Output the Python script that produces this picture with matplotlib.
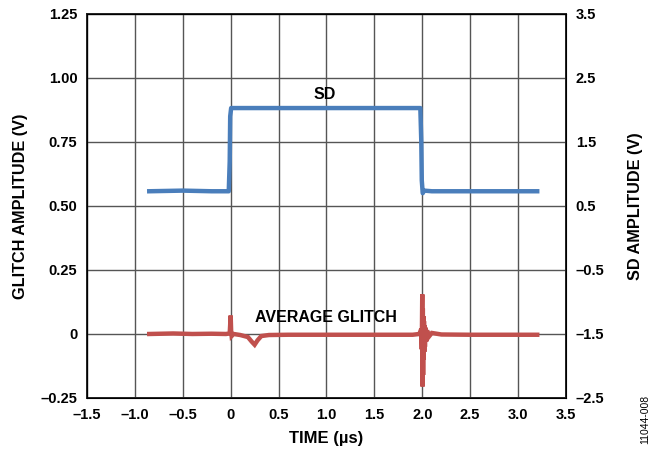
import matplotlib.pyplot as plt
import numpy as np

plt.rcParams.update({
    'font.family': ['Liberation Sans', 'DejaVu Sans'],
    'font.weight': 'bold',
    'font.size': 10.5,
})

BLUE = '#4a7ebb'
RED = '#c0504d'
GRID = '#555555'

# SD trace (right axis, V)
SD_TIME = [-0.85, -0.5, -0.2, -0.02, -0.01, -0.005, 0.005, 1.0, 1.98, 1.99, 1.995, 2.005, 2.02, 2.1, 2.5, 3.0, 3.2]
SD_AMP = [0.73, 0.74, 0.73, 0.73, 1.2, 1.9, 2.03, 2.03, 2.03, 1.5, 0.9, 0.70, 0.74, 0.73, 0.73, 0.73, 0.73]

# average glitch trace (left axis, V)
GL_TIME = [-0.85, -0.6, -0.4, -0.2, -0.05, -0.01, 0.0, 0.005, 0.01, 0.03, 0.1, 0.18, 0.22, 0.25,
           0.28, 0.32, 0.4, 0.6, 1.0, 1.5, 1.9, 1.97, 1.99, 1.995, 2.0, 2.003, 2.006, 2.009, 2.012,
           2.015, 2.018, 2.021, 2.024, 2.028, 2.033, 2.04, 2.05, 2.07, 2.1, 2.2, 2.5, 3.0, 3.2]
GL_AMP = [0.0, 0.002, 0.0, 0.001, 0.0, 0.002, 0.072, 0.01, -0.008, 0.0, -0.004, -0.012, -0.03, -0.042,
          -0.025, -0.008, -0.004, -0.003, -0.003, -0.003, -0.003, 0.0, 0.02, -0.06, 0.155, -0.205,
          0.1, -0.16, 0.07, -0.1, 0.05, -0.07, 0.035, -0.05, 0.025, -0.03, 0.014, -0.01, 0.004,
          -0.002, -0.003, -0.003, -0.003]

LEFT_TICKS = [-0.25, 0, 0.25, 0.50, 0.75, 1.00, 1.25]
LEFT_LABELS = ['–0.25', '0', '0.25', '0.50', '0.75', '1.00', '1.25']
RIGHT_TICKS = [-2.5, -1.5, -0.5, 0.5, 1.5, 2.5, 3.5]
RIGHT_LABELS = ['–2.5', '–1.5', '–0.5', '0.5', '1.5', '2.5', '3.5']
X_TICKS = [-1.5, -1.0, -0.5, 0, 0.5, 1.0, 1.5, 2.0, 2.5, 3.0, 3.5]
X_LABELS = ['–1.5', '–1.0', '–0.5', '0', '0.5', '1.0', '1.5', '2.0', '2.5', '3.0', '3.5']

fig = plt.figure(figsize=(6.57, 4.55), dpi=100)
ax = fig.add_axes([0.1324, 0.1253, 0.729, 0.844])

ax.set_xlim(-1.5, 3.5)
ax.set_ylim(-0.25, 1.25)
ax.set_xticks(X_TICKS)
ax.set_xticklabels(X_LABELS)
ax.set_yticks(LEFT_TICKS)
ax.set_yticklabels(LEFT_LABELS)
ax.grid(True, color=GRID, linewidth=1.0)
ax.tick_params(length=0, pad=7, labelsize=10.5)
for s in ax.spines.values():
    s.set_linewidth(1.4)
    s.set_color('#222222')

ax2 = ax.twinx()
ax2.set_ylim(-2.5, 3.5)
ax2.set_yticks(RIGHT_TICKS)
ax2.set_yticklabels(RIGHT_LABELS)
ax2.tick_params(length=0, pad=7, labelsize=10.5)

ax.plot(GL_TIME, GL_AMP, color=RED, linewidth=3.2, solid_joinstyle='miter', zorder=3)
ax2.plot(SD_TIME, SD_AMP, color=BLUE, linewidth=3.2, zorder=3)

ax.text(0.98, 0.935, 'SD', ha='center', va='center', fontsize=11.5, fontweight='bold')
ax.text(0.99, 0.064, 'AVERAGE GLITCH', ha='center', va='center', fontsize=11.5, fontweight='bold')

ax.set_xlabel('TIME (µs)', fontsize=12, fontweight='bold')
ax.set_ylabel('GLITCH AMPLITUDE (V)', fontsize=11.7, fontweight='bold')
ax2.set_ylabel('SD AMPLITUDE (V)', fontsize=11.7, fontweight='bold', rotation=90)
ax.xaxis.set_label_coords(0.5, -0.086)
ax.yaxis.set_label_coords(-0.123, 0.5)
ax2.yaxis.set_label_coords(1.129, 0.5)

fig.text(0.982, 0.079, '11044-008', rotation=90, ha='center', va='center',
         fontsize=7.5, fontweight='normal')

fig.savefig('out.png', dpi=100)
